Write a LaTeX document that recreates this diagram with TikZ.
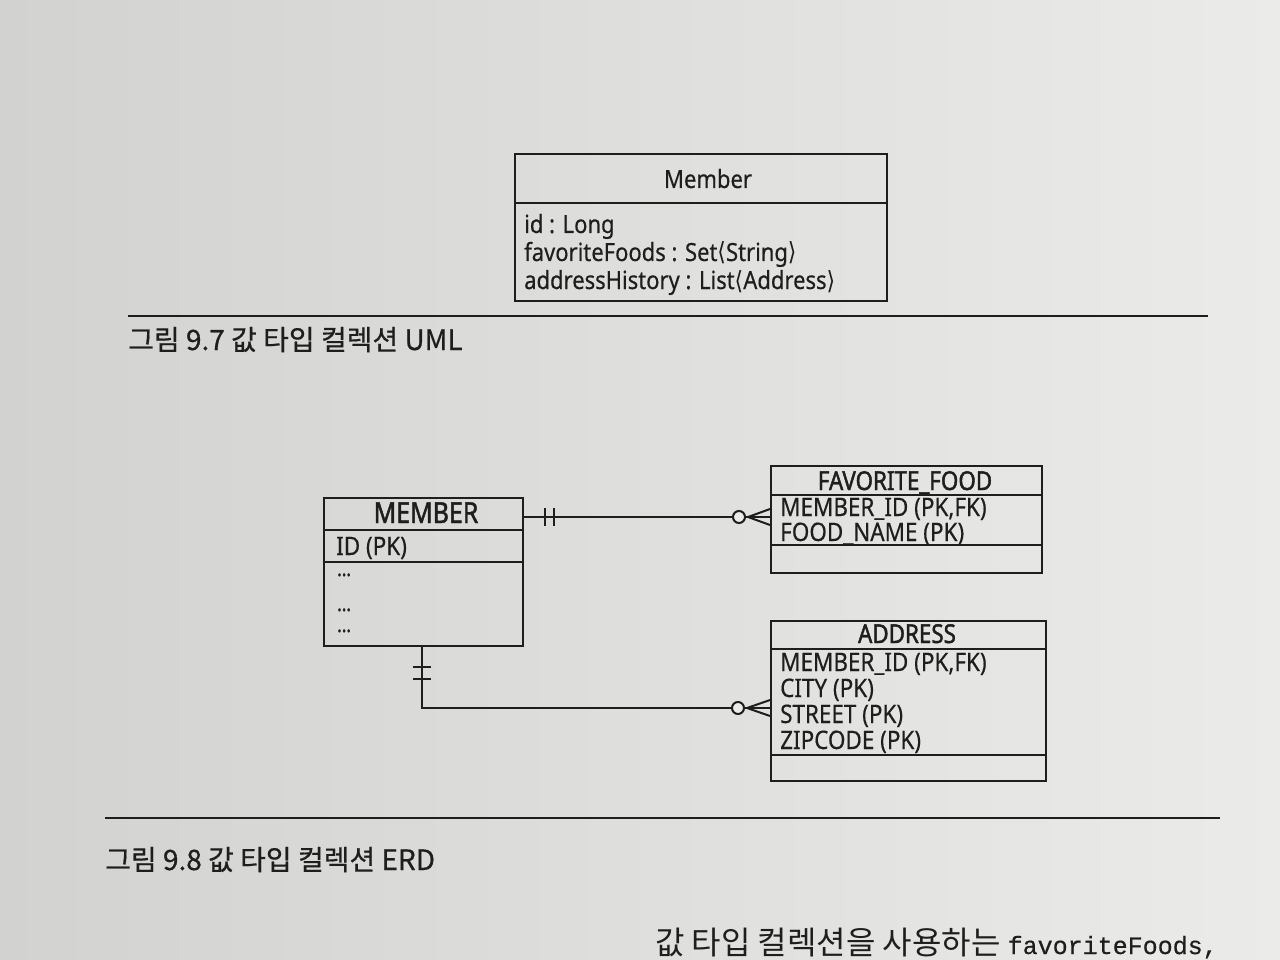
\documentclass[tikz,border=0pt]{standalone}
\usepackage{fontspec}
\setmainfont{Noto Sans}
\newfontfamily\boxfont[FakeStretch=0.88,FakeBold=0.4]{Noto Sans}
\newfontfamily\boxbold[FakeStretch=0.86,FakeBold=1.6]{Noto Sans}
\newfontfamily\djv[FakeStretch=0.88]{DejaVu Sans}
\newfontfamily\kr[FakeBold=0.6]{Noto Sans CJK KR}
\newfontfamily\krtext{Noto Sans CJK KR}
\newfontfamily\monofnt[FakeBold=0.5]{Liberation Mono}
\definecolor{paper}{HTML}{E3E3E1}
\definecolor{paperL}{HTML}{EBEBE9}
\definecolor{paperD}{HTML}{D2D2D0}
\definecolor{ink}{HTML}{1E1E1E}
\begin{document}
\begin{tikzpicture}[x=1pt,y=-1pt,
  tbl/.style={draw=ink, line width=2pt, rectangle, inner sep=0pt, anchor=north west},
  umltxt/.style={inner sep=0pt, anchor=base west, font=\boxfont\fontsize{25}{30}\selectfont, text=ink},
  umlhead/.style={inner sep=0pt, anchor=base, font=\boxfont\fontsize{25}{30}\selectfont, text=ink},
  erdtxt/.style={inner sep=0pt, anchor=base west, font=\boxfont\fontsize{25.5}{28}\selectfont, text=ink},
  dots/.style={inner sep=0pt, anchor=base west, font=\boxbold\fontsize{20}{20}\selectfont, text=ink},
  erdhead/.style={inner sep=0pt, anchor=base, font=\boxbold\fontsize{26}{30}\selectfont, text=ink},
  caption/.style={inner sep=0pt, anchor=base west, font=\kr\fontsize{28}{32}\selectfont, text=ink},
  rule/.style={draw=ink, line width=1.6pt},
  conn/.style={draw=ink, line width=2pt},
]
\useasboundingbox (0,0) rectangle (1280,960);
\shade[left color=paperD, right color=paperL] (0,0) rectangle (1280,960);

% ---------- UML ----------
\node[tbl, minimum width=372pt, minimum height=147pt] (uml) at (514,153) {};
\draw[tbl] (514,203) -- (886,203);
\node[umlhead] (umlname) at (708,188) {Member};
\node[umltxt] (a1) at (524,233) {id : Long};
\node[umltxt] (a2) at (524,261) {favoriteFoods : Set{\djv⟨}String{\djv⟩}};
\node[umltxt] (a3) at (524,289) {addressHistory : List{\djv⟨}Address{\djv⟩}};

\draw[rule] (128,316) -- (1208,316);
\node[caption] (cap1) at (128,350) {그림 9.7 값 타입 컬렉션 UML};

% ---------- ERD ----------
\node[tbl, minimum width=199pt, minimum height=148pt] (member) at (323,497) {};
\draw[tbl] (323,530) -- (522,530);
\draw[tbl] (323,562) -- (522,562);
\node[erdhead, font=\boxbold\fontsize{29}{30}\selectfont] (mh) at (426,523) {MEMBER};
\node[erdtxt] (m1) at (336,555) {ID (PK)};
\node[dots] (m2) at (337,576) {...};
\node[dots] (m3) at (337,611) {...};
\node[dots] (m4) at (337,632) {...};

\node[tbl, minimum width=271pt, minimum height=107pt] (ff) at (770,465) {};
\draw[tbl] (770,495) -- (1041,495);
\draw[tbl] (770,545) -- (1041,545);
\node[erdhead] (fh) at (905,490) {FAVORITE\_FOOD};
\node[erdtxt] (f1) at (780,516) {MEMBER\_ID (PK,FK)};
\node[erdtxt] (f2) at (780,541) {FOOD\_NAME (PK)};

\node[tbl, minimum width=275pt, minimum height=160pt] (addr) at (770,620) {};
\draw[tbl] (770,649) -- (1045,649);
\draw[tbl] (770,755) -- (1045,755);
\node[erdhead] (ah) at (907,643) {ADDRESS};
\node[erdtxt] (d1) at (780,671) {MEMBER\_ID (PK,FK)};
\node[erdtxt] (d2) at (780,697) {CITY (PK)};
\node[erdtxt] (d3) at (780,723) {STREET (PK)};
\node[erdtxt] (d4) at (780,749) {ZIPCODE (PK)};

% connector MEMBER -- FAVORITE_FOOD
\coordinate (c1s) at ([yshift=-20pt]member.north east);
\coordinate (c1e) at ([yshift=-52pt]ff.north west);
\draw[conn] (c1s) -- (c1e);
\draw[conn] ([xshift=21pt]c1s) ++(0,-9) -- ++(0,18);
\draw[conn] ([xshift=30pt]c1s) ++(0,-9) -- ++(0,18);
\draw[conn, fill=paperL] ([xshift=-31pt]c1e) circle (6pt);
\draw[conn] ([xshift=-22pt]c1e) -- ([yshift=-8pt]c1e);
\draw[conn] ([xshift=-22pt]c1e) -- ([yshift=8pt]c1e);

% connector MEMBER -- ADDRESS
\coordinate (c2s) at ([xshift=99pt]member.south west);
\coordinate (c2e) at ([yshift=-88pt]addr.north west);
\draw[conn] (c2s) |- (c2e);
\draw[conn] ([yshift=-20pt]c2s) ++(-9,0) -- ++(18,0);
\draw[conn] ([yshift=-32pt]c2s) ++(-9,0) -- ++(18,0);
\draw[conn, fill=paperL] ([xshift=-32pt]c2e) circle (6pt);
\draw[conn] ([xshift=-23pt]c2e) -- ([yshift=-8pt]c2e);
\draw[conn] ([xshift=-23pt]c2e) -- ([yshift=8pt]c2e);

\draw[rule] (105,818) -- (1220,818);
\node[caption] (cap2) at (105,870) {그림 9.8 값 타입 컬렉션 ERD};

\node[inner sep=0pt, anchor=base west, text=ink] (body) at (655,954)
  {{\krtext\fontsize{32}{34}\selectfont 값 타입 컬렉션을 사용하는 }{\monofnt\fontsize{25}{30}\selectfont favoriteFoods,}};
\end{tikzpicture}
\end{document}
